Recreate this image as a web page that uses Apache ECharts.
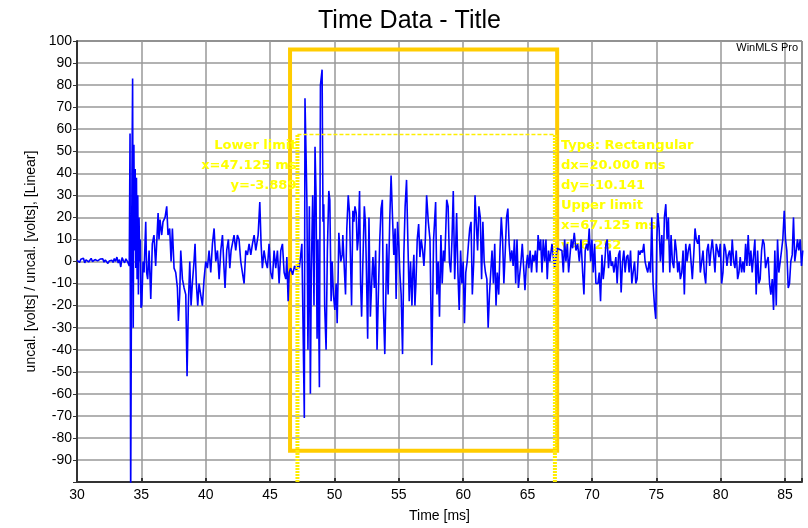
<!DOCTYPE html>
<html>
<head>
<meta charset="utf-8">
<title>Time Data - Title</title>
<script src="https://cdn.jsdelivr.net/npm/echarts@6/dist/echarts.min.js"></script>
<style>
  html, body { margin: 0; padding: 0; background: #fff; }
  #chart { width: 808px; height: 528px; }
</style>
</head>
<body>
<div id="chart"></div>
<script>
// pre-trigger noise
var tPre = [30.0, 30.1, 30.2, 30.3, 30.4, 30.5, 30.6, 30.7, 30.8, 30.9, 31.0, 31.1, 31.2, 31.3,
  31.4, 31.5, 31.6, 31.7, 31.8, 31.9, 32.0, 32.1, 32.2, 32.3, 32.4, 32.5, 32.6, 32.7, 32.8,
  32.9, 33.0, 33.1, 33.2, 33.3, 33.4, 33.5, 33.6, 33.7, 33.8, 33.9, 34.0];
var vPre = [0.5, 1.2, -0.4, 1.0, 0.2, 1.5, -0.6, 0.8, 1.3, -0.2, 0.6, 1.4, 0.0, -0.8, 0.9,
  1.6, 0.3, -0.5, 1.1, 0.4, 1.2, -0.3, 0.7, 1.5, -0.9, 0.2, 1.0, 0.6, -0.4, 1.3, 0.1, 2.0,
  -0.7, 0.9, -2.5, 1.8, 0.4, -0.6, 1.2, 0.2, -0.5];

// direct sound burst
var tOnset = [34.06, 34.12, 34.17, 34.22, 34.27, 34.32, 34.37, 34.42, 34.47, 34.52, 34.57,
  34.62, 34.67, 34.72, 34.77, 34.82, 34.87, 34.92, 34.97];
var vOnset = [-2, 58, -110, -30, 40, 83, -30, 53, 5, 42, -3, 38, -8, 30, -15, 20, 0, 10, -21];

// 35 .. 47 ms
var tEarly = [35.03, 35.13, 35.21, 35.34, 35.41, 35.49, 35.60, 35.73, 35.85, 35.98, 36.11,
  36.30, 36.37, 36.45, 36.58, 36.68, 36.84, 36.97, 37.07, 37.20, 37.31, 37.41, 37.54, 37.67,
  37.80, 37.88, 37.98, 38.06, 38.19, 38.32, 38.45, 38.55, 38.65, 38.76, 38.86, 38.96, 39.09,
  39.17, 39.27, 39.38, 39.48, 39.61, 39.74, 39.87, 40.00, 40.13, 40.26, 40.39, 40.52, 40.65,
  40.78, 40.91, 41.04, 41.17, 41.30, 41.42, 41.50, 41.63, 41.76, 41.87, 41.97, 42.07, 42.20,
  42.33, 42.46, 42.59, 42.72, 42.85, 42.98, 43.11, 43.24, 43.37, 43.50, 43.63, 43.76, 43.89,
  44.07, 44.20, 44.30, 44.40, 44.53, 44.66, 44.79, 44.92, 45.05, 45.18, 45.31, 45.44, 45.57,
  45.70, 45.83, 45.96, 46.09, 46.22, 46.30, 46.40, 46.48, 46.60, 46.75, 46.90, 47.05, 47.20];
var vEarly = [-20, 0, -5, 18, -5, -8, 5, -17, 8, 12, -2,
  22, 10, 19, 12, 18, 20, 25, 12, 15, 0, 15, -3, -5,
  -12, -27, -15, 5, -8, -12, -15, -52, -20, 0, -20, -10, 0,
  8, -10, -20, -10, -15, -20, -8, 0, -3, 5, -5, 8, 15,
  0, 5, -8, 5, 12, -3, -12, 5, 10, -3, 5, 8, 12,
  5, 12, 10, 0, -5, -10, 5, 3, 8, 3, 8, 12, 5,
  12, 27, 8, -3, 5, 0, -3, 8, -5, -8, 5, -3, 5,
  -10, 5, 8, -5, -8, 2, -18, -5, -3, -6, -2, -4, -1];

// measurement window 47 .. 67 ms
var tWindow = [47.27, 47.47, 47.66, 47.71, 47.79, 47.86, 47.94, 48.05, 48.13, 48.20, 48.31,
  48.41, 48.49, 48.57, 48.65, 48.72, 48.83, 48.91, 49.04, 49.11, 49.17, 49.24, 49.35, 49.45,
  49.56, 49.64, 49.74, 49.82, 49.92, 50.03, 50.13, 50.21, 50.29, 50.34, 50.42, 50.49, 50.60,
  50.65, 50.78, 50.86, 50.96, 51.07, 51.17, 51.25, 51.33, 51.43, 51.51, 51.59, 51.69, 51.77,
  51.85, 51.95, 52.03, 52.11, 52.21, 52.32, 52.40, 52.47, 52.58, 52.68, 52.79, 52.89, 52.99,
  53.10, 53.20, 53.31, 53.41, 53.52, 53.62, 53.72, 53.80, 53.91, 53.98, 54.06, 54.17, 54.30,
  54.40, 54.51, 54.61, 54.71, 54.79, 54.90, 55.00, 55.08, 55.18, 55.29, 55.39, 55.49, 55.60,
  55.70, 55.81, 55.91, 56.02, 56.09, 56.17, 56.25, 56.33, 56.43, 56.54, 56.64, 56.74, 56.85,
  56.95, 57.06, 57.16, 57.29, 57.42, 57.56, 57.70, 57.86, 57.96, 58.06, 58.16, 58.27, 58.37,
  58.47, 58.57, 58.72, 58.83, 58.93, 59.03, 59.13, 59.23, 59.34, 59.41, 59.49, 59.59, 59.69,
  59.80, 59.90, 60.00, 60.10, 60.20, 60.31, 60.41, 60.51, 60.61, 60.71, 60.82, 60.92, 61.02,
  61.12, 61.22, 61.33, 61.43, 61.53, 61.63, 61.73, 61.84, 61.94, 62.04, 62.14, 62.24, 62.35,
  62.45, 62.55, 62.65, 62.76, 62.86, 62.96, 63.06, 63.16, 63.27, 63.37, 63.47, 63.57, 63.67,
  63.78, 63.88, 63.98, 64.08, 64.18, 64.29, 64.39, 64.49, 64.59, 64.69, 64.80, 64.90, 65.00,
  65.10, 65.20, 65.31, 65.41, 65.51, 65.61, 65.71, 65.82, 65.92, 66.02, 66.12, 66.22, 66.33,
  66.43, 66.53, 66.63, 66.73, 66.90, 67.10, 67.30];
var vWindow = [-3, 8, -71, 74, 50, 27, -40, 25, -60, -5, 30,
  -20, 52, 30, -35, 10, -57, 80, 87, 18, 26, -20, -40, 5,
  32, 28, -18, 0, -15, -22, -10, -28, -5, 13, 13, 0, 3,
  12, -5, -15, 15, 30, 22, 0, -20, 23, 18, 25, 22, 5,
  10, 32, -10, -25, 0, 25, 18, 0, -35, 20, -25, -10, 2,
  -12, 5, -40, -15, 10, 24, 28, -20, -42, -20, 8, -15, 20,
  39, 20, 3, 15, -17, 18, 7, -5, -15, -42, 3, 25, 37,
  10, -18, 0, -20, -5, 3, -20, -10, 10, 17, 2, 10, 5,
  -2, 10, 30, 18, 10, -47, 10, 27, -15, 0, -25, 12, -10,
  5, 0, 28, 25, 0, -5, 10, 32, -8, 5, 22, -5, -22,
  5, -10, 0, -28, -5, 0, 8, 15, 18, -15, 0, 30, 30,
  5, 25, 20, -8, 18, 0, -5, -8, -30, -15, -5, 5, -10,
  8, -20, -5, -15, 5, 20, 10, -10, 5, 20, 24, 8, 0,
  5, -2, 10, -10, 10, -12, -12, 0, 8, -2, -13, -2, 3,
  -3, 5, -5, 3, 0, 5, -5, 12, 5, 10, -5, 10, 0,
  10, -8, 5, 0, 8, -3, 6];

// reverberant tail 67.5 .. end
var tLate = [67.67, 67.78, 67.88, 67.98, 68.09, 68.19, 68.29, 68.40, 68.50, 68.63, 68.76,
  68.89, 69.02, 69.15, 69.28, 69.38, 69.48, 69.59, 69.69, 69.79, 69.90, 70.00, 70.10, 70.21,
  70.31, 70.47, 70.57, 70.67, 70.78, 70.88, 70.98, 71.09, 71.19, 71.29, 71.40, 71.50, 71.60,
  71.71, 71.86, 71.96, 72.07, 72.17, 72.27, 72.38, 72.48, 72.58, 72.69, 72.79, 72.89, 73.00,
  73.10, 73.20, 73.31, 73.41, 73.51, 73.62, 73.72, 73.82, 73.93, 74.03, 74.13, 74.24, 74.34,
  74.44, 74.55, 74.65, 74.75, 74.86, 74.96, 75.04, 75.12, 75.22, 75.32, 75.43, 75.53, 75.63,
  75.74, 75.84, 75.94, 76.05, 76.15, 76.25, 76.36, 76.46, 76.56, 76.67, 76.77, 76.87, 76.98,
  77.08, 77.18, 77.29, 77.39, 77.49, 77.60, 77.70, 77.80, 77.91, 78.01, 78.11, 78.22, 78.32,
  78.42, 78.53, 78.63, 78.73, 78.84, 78.94, 79.04, 79.15, 79.25, 79.35, 79.46, 79.56, 79.66,
  79.77, 79.87, 79.97, 80.08, 80.18, 80.28, 80.39, 80.49, 80.59, 80.70, 80.80, 80.90, 81.01,
  81.11, 81.21, 81.32, 81.42, 81.52, 81.63, 81.73, 81.83, 81.94, 82.04, 82.14, 82.25, 82.35,
  82.45, 82.56, 82.66, 82.76, 82.87, 82.97, 83.07, 83.18, 83.28, 83.38, 83.49, 83.59, 83.69,
  83.80, 83.90, 84.01, 84.11, 84.21, 84.32, 84.42, 84.52, 84.63, 84.73, 84.83, 84.94, 85.04,
  85.14, 85.25, 85.35, 85.45, 85.56, 85.66, 85.76, 85.87, 85.97, 86.07, 86.18, 86.28, 86.38];
var vLate = [5, -5, 10, 0, 8, -5, -5, 10, 6, 13, 5,
  8, 0, 10, -5, -15, 5, 8, 5, 15, 0, 10, -5, 8,
  -10, -10, -5, -18, 3, -8, -2, 8, 10, -3, 5, -2, 0,
  -5, 2, -10, 3, 5, -14, 0, 5, -5, 2, 3, -5, 5,
  -10, -5, 0, -10, -8, 5, 3, 5, 4, 8, 0, -3, -5,
  0, -5, 20, -10, -20, -26, 10, 22, 15, 0, 12, -5, 20,
  26, 10, 20, -5, 12, 0, -3, 10, 5, -5, 0, -8, -5,
  5, -15, 8, 0, 5, 8, 0, -8, 3, 15, 10, 8, 12,
  -5, 0, 5, -5, -10, 5, 8, -2, 5, 10, 3, -5, 8,
  5, 2, 8, -10, -5, 8, 5, -2, 3, 5, -2, 10, 0,
  -3, 5, -8, -5, 2, -5, 0, -5, 8, -2, 12, -2, 5,
  -5, 3, 10, -15, 5, -10, -8, 5, 10, 8, -3, 0, 2,
  -10, -15, -8, -22, 5, -20, 10, -5, 0, 5, 10, 23, 10,
  5, -12, -10, 0, 3, 20, 0, 5, 10, 5, 10, -2, 5];

// cursor / selection annotation (from the WinMLS readout)
var cursorX = [47.125, 67.125];
var cursorTopY = 57.6;
var boxX = [46.55, 67.3];
var boxY = [-85.8, 96.1];
var leftLabels = ['Lower limit', 'x=47.125 ms', 'y=-3.889'];
var rightLabels = ['Type: Rectangular', 'dx=20.000 ms', 'dy=-10.141', 'Upper limit', 'x=67.125 ms', 'y=6.252'];

var X_MIN = 30, X_MAX = 86.32;

function pairs(t, v) {
  var out = [];
  for (var i = 0; i < t.length; i++) out.push([t[i], v[i]]);
  return out;
}
var signal = [].concat(pairs(tPre, vPre), pairs(tOnset, vOnset), pairs(tEarly, vEarly),
  pairs(tWindow, vWindow), pairs(tLate, vLate));

var FONT = 'Liberation Sans, Arial, sans-serif';
var chart = echarts.init(document.getElementById('chart'));

var option = {
  animation: false,
  backgroundColor: '#fff',
  title: {
    text: 'Time Data - Title',
    left: 313, top: 4,
    textStyle: { fontFamily: FONT, fontSize: 25, fontWeight: 'normal', color: '#000' }
  },
  grid: {
    left: 77, right: 6, top: 41, bottom: 45,
    show: true, borderColor: '#000', borderWidth: 1, containLabel: false
  },
  xAxis: {
    type: 'value', min: X_MIN, max: X_MAX, interval: 5,
    name: 'Time [ms]', nameLocation: 'middle', nameGap: 27,
    nameTextStyle: { fontFamily: FONT, fontSize: 14, color: '#000' },
    axisLine: { onZero: false, lineStyle: { color: '#333', width: 2 } },
    axisTick: { inside: true, length: 4, lineStyle: { color: '#333', width: 2 } },
    axisLabel: {
      fontFamily: FONT, fontSize: 14, color: '#000', margin: 6,
      formatter: function(v) { return v % 5 === 0 ? String(v) : ''; }
    },
    splitLine: { lineStyle: { color: '#999', width: 1.5 } }
  },
  yAxis: {
    type: 'value', min: -100, max: 100, interval: 10,
    name: 'uncal. [volts] / uncal. [volts], [Linear]', nameLocation: 'middle', nameGap: 38,
    nameTextStyle: { fontFamily: FONT, fontSize: 14, color: '#000' },
    axisLine: { show: true, onZero: false, lineStyle: { color: '#333', width: 2 } },
    axisTick: { show: true, length: 4, lineStyle: { color: '#333', width: 1 } },
    axisLabel: {
      fontFamily: FONT, fontSize: 14, color: '#000', margin: 5,
      formatter: function(v) { return v === -100 ? '' : String(v); }
    },
    splitLine: { lineStyle: { color: '#999', width: 1.5 } }
  },
  series: [
    {
      type: 'line', data: signal, showSymbol: false, z: 3,
      lineStyle: { color: '#0000ff', width: 1.6 },
      sampling: null
    },
    {
      // selection rectangle
      type: 'line', data: [], z: 5,
      markArea: {
        silent: true,
        itemStyle: { color: 'rgba(0,0,0,0)', borderColor: '#ffcc00', borderWidth: 4 },
        data: [[{ coord: [boxX[0], boxY[1]] }, { coord: [boxX[1], boxY[0]] }]]
      }
    },
    {
      type: 'line', z: 4, showSymbol: false,
      data: [[cursorX[0], -100], [cursorX[0], cursorTopY]],
      lineStyle: { color: '#ffee00', width: 4, type: [2, 1] }
    },
    {
      type: 'line', z: 4, showSymbol: false,
      data: [[cursorX[1], -100], [cursorX[1], cursorTopY]],
      lineStyle: { color: '#ffee00', width: 4, type: [2, 1] }
    },
    {
      type: 'line', z: 4, showSymbol: false,
      data: [[cursorX[0], cursorTopY], [cursorX[1], cursorTopY]],
      lineStyle: { color: '#ffee00', width: 1.5, type: [4, 2] }
    }
  ]
};
chart.setOption(option);

// readout text next to the cursors, under the trace
var pL = chart.convertToPixel({ gridIndex: 0 }, [cursorX[0], 0]);
var pR = chart.convertToPixel({ gridIndex: 0 }, [cursorX[1], 0]);
var LABEL_FONT = 'bold 13px DejaVu Sans, ' + FONT;
var els = [];
var LINE_TOP = 146, LINE_STEP = 20;
leftLabels.forEach(function(s, i) {
  els.push({
    type: 'text', z: 1, x: pL[0] - 1, y: LINE_TOP + i * LINE_STEP,
    style: { text: s, fill: '#ffff00', font: LABEL_FONT, align: 'right', verticalAlign: 'middle' }
  });
});
rightLabels.forEach(function(s, i) {
  els.push({
    type: 'text', z: 1, x: pR[0] + 6, y: LINE_TOP + i * LINE_STEP,
    style: { text: s, fill: '#ffff00', font: LABEL_FONT, align: 'left', verticalAlign: 'middle' }
  });
});
els.push({
  type: 'text', z: 1, right: 10, top: 42,
  style: { text: 'WinMLS Pro', fill: '#000', font: '11px ' + FONT }
});
chart.setOption({ graphic: { elements: els } });
</script>
</body>
</html>
